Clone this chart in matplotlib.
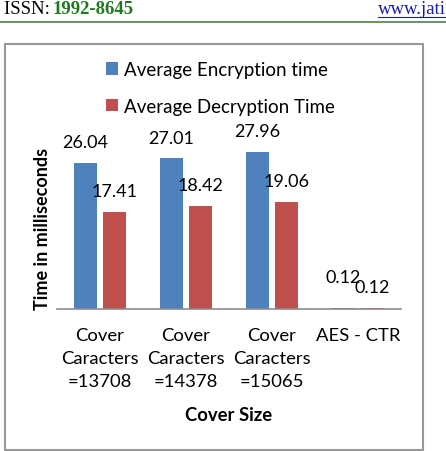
import numpy as np
import matplotlib
matplotlib.use("Agg")
import matplotlib.pyplot as plt
from matplotlib.patches import Rectangle
from matplotlib.lines import Line2D

# Chart values
categories = ["Cover\nCaracters\n=13708", "Cover\nCaracters\n=14378",
              "Cover\nCaracters\n=15065", "AES - CTR"]
enc_times = [26.04, 27.01, 27.96, 0.12]
dec_times = [17.41, 18.42, 19.06, 0.12]
series_names = ["Average Encryption time", "Average Decryption Time"]

W, H = 446, 452
plt.rcParams['font.family'] = ['Lato', 'DejaVu Sans']

fig = plt.figure(figsize=(W / 100, H / 100), dpi=100)


# helpers: pixel position (from top-left) -> figure fraction
def fx(px):
    return px / W


def fy(py):
    return 1 - py / H


# page header above the chart
fig.text(fx(4), fy(10), "ISSN: ", family="Liberation Serif", fontsize=13.5,
         va="center", ha="left", color="black")
fig.text(fx(52), fy(10), "1992-8645", family="Liberation Serif", fontsize=13.5,
         fontweight="bold", va="center", ha="left", color="#1f7a1f")
fig.text(fx(378), fy(10), "www.jati", family="Liberation Serif", fontsize=13.5,
         va="center", ha="left", color="#1a1aa6")
fig.add_artist(Line2D([fx(378), fx(446)], [fy(17.5), fy(17.5)], color="#1a1aa6", lw=0.8))
fig.add_artist(Line2D([0, 1], [fy(22.5), fy(22.5)], color="#6f9466", lw=1.5))

# chart frame
fig.add_artist(Rectangle((fx(5), fy(450.5)), fx(417.5), (445.5 - 40) / H,
                         transform=fig.transFigure, fill=False,
                         edgecolor="#999999", lw=1.5))

# plot area: baseline at y=310px, 5.6 px per ms
ymax = 30
ax = fig.add_axes([fx(57), fy(310), fx(401) - fx(57), ymax * 5.6 / H])

x = np.arange(len(categories))
bw = 0.267
off = 0.169
b1 = ax.bar(x - off, enc_times, bw, color="#4F81BD", label=series_names[0])
b2 = ax.bar(x + off, dec_times, bw, color="#C0504D", label=series_names[1])

ax.set_xlim(-0.5, len(categories) - 0.5)
ax.set_ylim(0, ymax)

# value labels
enc_off = [15.5, 14.5, 15.5, 22.5]
for xi, v, o in zip(x, enc_times, enc_off):
    ax.annotate(f"{v:.2f}", (xi - off, v), xytext=(0, o), textcoords="offset points",
                ha="center", va="center", fontsize=13, annotation_clip=False)
for xi, v in zip(x, dec_times):
    ax.annotate(f"{v:.2f}", (xi + off, v), xytext=(0, 15), textcoords="offset points",
                ha="center", va="center", fontsize=13, annotation_clip=False)

for s in ["top", "right", "left"]:
    ax.spines[s].set_visible(False)
ax.spines["bottom"].set_color("#8c8c8c")
ax.spines["bottom"].set_linewidth(1.2)
ax.set_yticks([])
ax.set_xticks(x)
ax.set_xticklabels(categories, fontsize=13.3, linespacing=1.55)
ax.tick_params(axis="x", length=0, pad=13)

ax.set_xlabel("Cover Size", fontsize=13.3, fontweight="bold", labelpad=12)
fig.text(fx(43), fy(229), "Time in milliseconds", rotation=90, fontsize=13,
         fontweight="bold", ha="center", va="center")

ax.legend(loc="upper left", bbox_to_anchor=(fx(106), fy(62)),
          bbox_transform=fig.transFigure, frameon=False, fontsize=13.5,
          handlelength=0.64, handleheight=0.64, handletextpad=0.3,
          labelspacing=1.05, borderpad=0, borderaxespad=0)

fig.savefig("out.png", dpi=100)
